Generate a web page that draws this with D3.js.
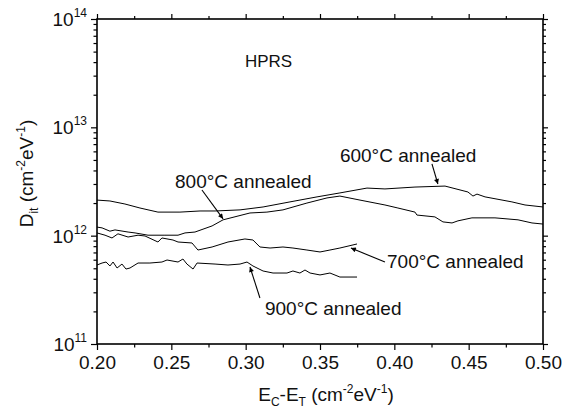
<!DOCTYPE html>
<html>
<head>
<meta charset="utf-8">
<script src="https://cdn.jsdelivr.net/npm/d3@7"></script>
<style>
  body { margin: 0; background: #fff; }
  text { font-family: "Liberation Sans", Arial, Helvetica, sans-serif; fill: #111; }
</style>
</head>
<body>
<script>
const width = 568,
  height = 410;
const margin = { top: 19, right: 25, bottom: 66, left: 97 };

// 600 °C annealed
const e600 = [0.200, 0.2087, 0.2188, 0.2289, 0.2410, 0.2558, 0.2693, 0.2794, 0.2962, 0.3117, 0.3298, 0.3480,
  0.3634, 0.3816, 0.3937, 0.4139, 0.4341, 0.4495, 0.4529, 0.4556, 0.4610, 0.4791, 0.4879, 0.500];
const d600 = [2.13e12, 2.09e12, 1.96e12, 1.80e12, 1.65e12, 1.65e12, 1.69e12, 1.69e12, 1.73e12, 1.84e12, 2.05e12, 2.28e12,
  2.48e12, 2.75e12, 2.70e12, 2.81e12, 2.87e12, 2.53e12, 2.32e12, 2.42e12, 2.28e12, 2.05e12, 1.92e12, 1.84e12];

// 800 °C annealed
const e800 = [0.200, 0.2034, 0.2087, 0.2121, 0.2209, 0.2256, 0.2343, 0.2457, 0.2545, 0.2592, 0.2659, 0.2774,
  0.2848, 0.3029, 0.3143, 0.3251, 0.3412, 0.3547, 0.3634, 0.3769, 0.3937, 0.4024, 0.4139, 0.4152, 0.4273,
  0.4327, 0.4388, 0.4428, 0.4522, 0.4677, 0.4832, 0.4926, 0.500];
const d800 = [1.20e12, 1.18e12, 1.10e12, 1.13e12, 1.08e12, 1.06e12, 1.01e12, 1.01e12, 1.01e12, 1.06e12, 1.08e12, 1.23e12,
  1.40e12, 1.62e12, 1.65e12, 1.73e12, 2.00e12, 2.23e12, 2.32e12, 2.13e12, 1.92e12, 1.80e12, 1.65e12, 1.55e12, 1.49e12,
  1.34e12, 1.31e12, 1.37e12, 1.46e12, 1.46e12, 1.40e12, 1.31e12, 1.28e12];

// 700 °C annealed
const e700 = [0.200, 0.2054, 0.2101, 0.2141, 0.2209, 0.2276, 0.2323, 0.2410, 0.2437, 0.2511, 0.2545, 0.2639,
  0.2679, 0.2774, 0.2881, 0.2995, 0.3049, 0.3096, 0.3164, 0.3251, 0.3318, 0.3412, 0.3500, 0.3567, 0.3634, 0.3749];
const d700 = [1.06e12, 1.01e12, 9.52e11, 1.04e12, 9.72e11, 1.01e12, 9.93e11, 8.74e11, 9.52e11, 9.12e11, 8.74e11, 8.56e11,
  7.37e11, 7.86e11, 8.74e11, 9.32e11, 9.12e11, 7.86e11, 7.69e11, 7.86e11, 7.69e11, 7.37e11, 7.07e11, 7.37e11, 7.69e11, 8.38e11];

// 900 °C annealed
const e900 = [0.200, 0.2034, 0.2061, 0.2087, 0.2108, 0.2135, 0.2168, 0.2195, 0.2222, 0.2276, 0.2356, 0.2437,
  0.2471, 0.2545, 0.2578, 0.2605, 0.2646, 0.2673, 0.2794, 0.2881, 0.2962, 0.3009, 0.3049, 0.3117, 0.3184,
  0.3278, 0.3318, 0.3365, 0.3399, 0.3433, 0.3500, 0.3567, 0.3634, 0.3749];
const d900 = [5.36e11, 5.59e11, 5.71e11, 5.25e11, 5.71e11, 5.03e11, 5.47e11, 4.92e11, 5.03e11, 5.59e11, 5.59e11, 5.71e11,
  5.96e11, 5.71e11, 6.09e11, 5.47e11, 4.92e11, 5.59e11, 5.47e11, 5.36e11, 5.47e11, 5.71e11, 5.25e11, 4.72e11, 4.52e11,
  4.52e11, 4.72e11, 4.52e11, 4.82e11, 4.52e11, 4.34e11, 4.52e11, 4.15e11, 4.15e11];

const xTicks = [0.20, 0.25, 0.30, 0.35, 0.40, 0.45, 0.50];
const yExponents = [11, 12, 13, 14];

// labels: text start, arrow tail, arrow tip (data units)
const notes = [
  { text: '600\u00b0C annealed', e: 0.3634, d: 4.79e12, from: [0.4253, 4.6e12], to: [0.4293, 3.0e12] },
  { text: '800\u00b0C annealed', e: 0.2525, d: 2.75e12, from: [0.2706, 2.64e12], to: [0.2848, 1.43e12] },
  { text: '700\u00b0C annealed', e: 0.3951, d: 5.03e11, from: [0.3937, 5.71e11], to: [0.3708, 7.69e11] },
  { text: '900\u00b0C annealed', e: 0.3130, d: 1.85e11, from: [0.3096, 2.66e11], to: [0.3029, 5.14e11] }
];

const series = [
  { e: e600, d: d600 },
  { e: e800, d: d800 },
  { e: e700, d: d700 },
  { e: e900, d: d900 }
];

const x = d3.scaleLinear()
  .domain([0.20, 0.50])
  .range([margin.left, width - margin.right]);

const y = d3.scaleLog()
  .domain([1e11, 1e14])
  .range([height - margin.bottom, margin.top]);

const svg = d3.select('body').append('svg')
  .attr('width', width)
  .attr('height', height);

svg.append('defs').append('marker')
  .attr('id', 'head')
  .attr('viewBox', '0 0 10 10')
  .attr('refX', 10)
  .attr('refY', 5)
  .attr('markerWidth', 7)
  .attr('markerHeight', 5)
  .attr('markerUnits', 'userSpaceOnUse')
  .attr('orient', 'auto')
  .append('path')
  .attr('d', 'M0,0L10,5L0,10z')
  .attr('fill', '#000');

const minorX = d3.range(0.225, 0.5, 0.05);
const minorY = [];
yExponents.slice(0, -1).forEach(p => {
  for (let k = 2; k <= 9; k++) minorY.push(k * Math.pow(10, p));
});

const yb = height - margin.bottom,
  yt = margin.top,
  xl = margin.left,
  xr = width - margin.right;

// bottom axis
svg.append('g')
  .attr('transform', `translate(0,${yb})`)
  .call(d3.axisBottom(x).tickValues(xTicks).tickSize(6).tickFormat(d3.format('.2f')).tickPadding(6))
  .call(g => g.select('.domain').remove())
  .call(g => g.selectAll('text').attr('font-size', 19).attr('fill', '#111')
    .attr('font-family', '"Liberation Sans", Arial, sans-serif'));

svg.append('g')
  .attr('transform', `translate(0,${yb})`)
  .call(d3.axisBottom(x).tickValues(minorX).tickSize(3.5).tickFormat(''))
  .call(g => g.select('.domain').remove());

// top axis
svg.append('g')
  .attr('transform', `translate(0,${yt})`)
  .call(d3.axisTop(x).tickValues(xTicks).tickSize(5).tickFormat(''))
  .call(g => g.select('.domain').remove());
svg.append('g')
  .attr('transform', `translate(0,${yt})`)
  .call(d3.axisTop(x).tickValues(minorX).tickSize(3).tickFormat(''))
  .call(g => g.select('.domain').remove());

// left axis
svg.append('g')
  .attr('transform', `translate(${xl},0)`)
  .call(d3.axisLeft(y).tickValues(yExponents.map(p => Math.pow(10, p))).tickSize(6).tickFormat(''))
  .call(g => g.select('.domain').remove());
svg.append('g')
  .attr('transform', `translate(${xl},0)`)
  .call(d3.axisLeft(y).tickValues(minorY).tickSize(3.5).tickFormat(''))
  .call(g => g.select('.domain').remove());

// right axis
svg.append('g')
  .attr('transform', `translate(${xr},0)`)
  .call(d3.axisRight(y).tickValues(yExponents.map(p => Math.pow(10, p))).tickSize(5).tickFormat(''))
  .call(g => g.select('.domain').remove());
svg.append('g')
  .attr('transform', `translate(${xr},0)`)
  .call(d3.axisRight(y).tickValues(minorY).tickSize(3).tickFormat(''))
  .call(g => g.select('.domain').remove());

svg.selectAll('.tick line').attr('stroke', '#000').attr('stroke-width', 1.2);

// frame
svg.append('rect')
  .attr('x', xl)
  .attr('y', yt)
  .attr('width', xr - xl)
  .attr('height', yb - yt)
  .attr('fill', 'none')
  .attr('stroke', '#000')
  .attr('stroke-width', 1.6);

// y tick labels 10^n
const yl = svg.append('g');
yExponents.forEach(p => {
  const t = yl.append('text')
    .attr('x', xl - 10)
    .attr('y', y(Math.pow(10, p)) + 7)
    .attr('text-anchor', 'end')
    .attr('font-size', 19);
  t.append('tspan').text('10');
  t.append('tspan').attr('font-size', 12).attr('dy', -9).text(p);
});

// curves
const line = d3.line()
  .x(d => x(d[0]))
  .y(d => y(d[1]));

svg.append('g')
  .selectAll('path')
  .data(series)
  .enter().append('path')
  .attr('d', s => line(s.e.map((e, i) => [e, s.d[i]])))
  .attr('fill', 'none')
  .attr('stroke', '#000')
  .attr('stroke-width', 1)
  .attr('stroke-linejoin', 'round');

// annotations
const ann = svg.append('g');
notes.forEach(n => {
  ann.append('text')
    .attr('x', x(n.e))
    .attr('y', y(n.d))
    .attr('font-size', 19)
    .text(n.text);
  ann.append('line')
    .attr('x1', x(n.from[0]))
    .attr('y1', y(n.from[1]))
    .attr('x2', x(n.to[0]))
    .attr('y2', y(n.to[1]))
    .attr('stroke', '#000')
    .attr('stroke-width', 1.1)
    .attr('marker-end', 'url(#head)');
});

ann.append('text')
  .attr('x', x(0.2995))
  .attr('y', y(3.6e13))
  .attr('font-size', 17)
  .text('HPRS');

// axis titles
const xt = svg.append('text')
  .attr('x', (xl + xr) / 2 + 6)
  .attr('y', 401)
  .attr('text-anchor', 'middle')
  .attr('font-size', 19);
xt.append('tspan').text('E');
xt.append('tspan').attr('font-size', 12).attr('dy', 5).text('C');
xt.append('tspan').attr('dy', -5).text('-E');
xt.append('tspan').attr('font-size', 12).attr('dy', 5).text('T');
xt.append('tspan').attr('dy', -5).text(' (cm');
xt.append('tspan').attr('font-size', 12).attr('dy', -8).text('-2');
xt.append('tspan').attr('dy', 8).text('eV');
xt.append('tspan').attr('font-size', 12).attr('dy', -8).text('-1');
xt.append('tspan').attr('dy', 8).text(')');

const ytl = svg.append('text')
  .attr('transform', `translate(33,${(yt + yb) / 2 - 8}) rotate(-90)`)
  .attr('text-anchor', 'middle')
  .attr('font-size', 19);
ytl.append('tspan').text('D');
ytl.append('tspan').attr('font-size', 12).attr('dy', 5).text('it');
ytl.append('tspan').attr('dy', -5).text(' (cm');
ytl.append('tspan').attr('font-size', 12).attr('dy', -8).text('-2');
ytl.append('tspan').attr('dy', 8).text('eV');
ytl.append('tspan').attr('font-size', 12).attr('dy', -8).text('-1');
ytl.append('tspan').attr('dy', 8).text(')');
</script>
</body>
</html>
